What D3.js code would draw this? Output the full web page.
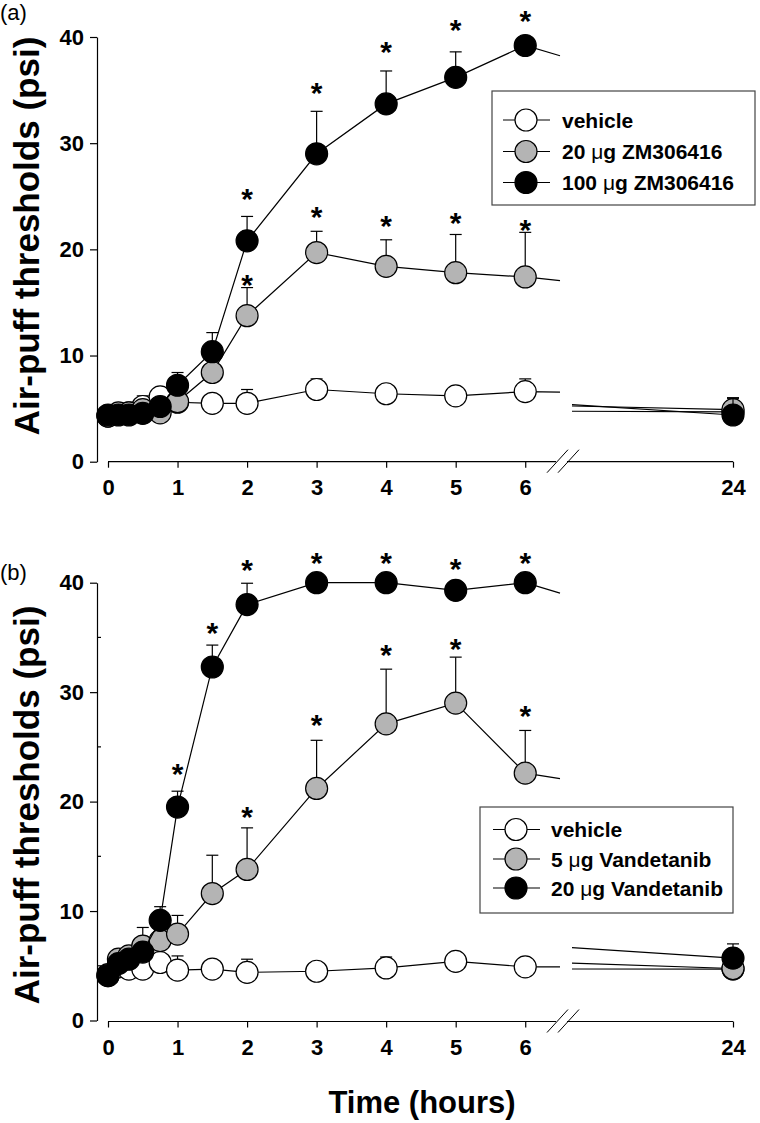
<!DOCTYPE html>
<html><head><meta charset="utf-8">
<script src="https://cdn.jsdelivr.net/npm/d3@7"></script>
<style>
html,body{margin:0;padding:0;background:#fff;}
svg{display:block;font-family:"Liberation Sans",Arial,Helvetica,sans-serif;}
</style></head>
<body>
<svg id="chart" width="760" height="1123"></svg>
<script>
// ---------- DATA ----------
const times = [0, 0.15, 0.3, 0.5, 0.75, 1, 1.5, 2, 3, 4, 5, 6, 24];
const xTicks = [0, 1, 2, 3, 4, 5, 6, 24];
const yTicks = [0, 10, 20, 30, 40];
const yMinorTicks = [5, 15, 25, 35];

// Panel (a) ZM306416
const namesA = ["vehicle", "20 \u03bcg ZM306416", "100 \u03bcg ZM306416"];
const vehicleA    = [4.3, 4.5, 4.6, 5.2, 6.1, 5.6, 5.5, 5.5, 6.8, 6.4, 6.2, 6.6, 4.7];
const vehicleAErr = [0.3, 0.3, 0.4, 1.0, 0.4, 0.5, 0.4, 1.3, 1.0, 0.5, 0.4, 1.2, 1.3];
const zm20A       = [4.3, 4.6, 4.6, 4.9, 4.6, 5.65, 8.4, 13.75, 19.7, 18.4, 17.8, 17.4, 4.9];
const zm20AErr    = [0.3, 0.4, 0.4, 0.6, 0.5, 0.8, 1.2, 2.65, 2.0, 2.5, 3.6, 4.2, 1.1];
const zm100A      = [4.4, 4.4, 4.4, 4.55, 5.2, 7.2, 10.36, 20.8, 29.0, 33.7, 36.2, 39.2, 4.4];
const zm100AErr   = [0.3, 0.3, 0.3, 0.4, 0.6, 1.2, 1.8, 2.3, 4.0, 3.1, 2.4, 0.5, 1.6];
const starTimesA20  = [2, 3, 4, 5, 6];
const starLevelsA20 = [17.3, 23.7, 22.9, 23.1, 22.5];
const starTimesA100  = [2, 3, 4, 5, 6];
const starLevelsA100 = [25.4, 35.4, 39.2, 41.3, 42.2];

// Panel (b) Vandetanib
const namesB = ["vehicle", "5 \u03bcg Vandetanib", "20 \u03bcg Vandetanib"];
const vehicleB    = [4.1, 4.9, 4.7, 4.7, 5.3, 4.6, 4.7, 4.4, 4.5, 4.8, 5.4, 4.9, 4.7];
const vehicleBErr = [0.3, 0.4, 0.4, 0.5, 0.6, 1.3, 0.6, 1.2, 0.4, 1.0, 0.5, 0.5, 0.8];
const van5B       = [4.2, 5.6, 5.9, 6.8, 7.3, 7.9, 11.6, 13.8, 21.2, 27.1, 29.0, 22.6, 4.75];
const van5BErr    = [0.3, 0.6, 0.8, 1.7, 1.5, 1.7, 3.5, 3.8, 4.4, 5.0, 4.2, 3.9, 1.0];
const van20B      = [4.1, 5.2, 5.6, 6.25, 9.15, 19.5, 32.3, 38.0, 40.0, 40.0, 39.3, 40.0, 5.7];
const van20BErr   = [0.3, 0.4, 0.5, 0.6, 1.25, 1.45, 2.0, 1.95, 0.3, 0.3, 0.3, 0.3, 1.3];
const starTimesB5  = [2, 3, 4, 5, 6];
const starLevelsB5 = [19.2, 27.6, 34.0, 34.6, 28.5];
const starTimesB20  = [1, 1.5, 2, 3, 4, 5, 6];
const starLevelsB20 = [23.2, 36.0, 41.8, 42.4, 42.4, 41.9, 42.4];

// ---------- DRAW ----------
const svg = d3.select("#chart");
const FONT = '"Liberation Sans",Arial,Helvetica,sans-serif';
const fills = ["#ffffff", "#b4b4b4", "#000000"];
const R = 11;
const breakStart = 6.5, breakEnd = 23.5;

const x = d3.scaleLinear().domain([0, breakStart, breakEnd, 24]).range([108, 560, 572, 733]);

function interp(t, v, tt) {
  for (let i = 0; i < t.length - 1; i++) {
    if (tt >= t[i] && tt <= t[i + 1]) {
      return v[i] + (v[i + 1] - v[i]) * (tt - t[i]) / (t[i + 1] - t[i]);
    }
  }
  return null;
}

function drawPanel(cfg) {
  const y = d3.scaleLinear().domain([0, 40]).range([cfg.y0, cfg.y40]);
  const g = svg.append("g");
  const axisY = cfg.y0 + cfg.xAxisShift;

  // panel label
  g.append("text").attr("x", 0).attr("y", cfg.labelY).attr("font-size", 22)
    .attr("font-family", FONT).text(cfg.label);

  // y axis
  const ya = g.append("g").attr("transform", "translate(97,0)")
    .call(d3.axisLeft(y).tickValues(yTicks).tickSize(7).tickSizeOuter(0).tickPadding(6));
  ya.selectAll("path,line").attr("stroke", "#000").attr("stroke-width", 1.2);
  ya.selectAll("text").attr("font-size", 22).attr("font-weight", "bold").attr("font-family", FONT).attr("fill", "#000");
  if (cfg.minor) {
    g.selectAll(".minor").data(yMinorTicks).join("line")
      .attr("x1", 97).attr("x2", 101).attr("y1", d => y(d)).attr("y2", d => y(d))
      .attr("stroke", "#000").attr("stroke-width", 1.2);
  }

  // x axis
  const xa = g.append("g").attr("transform", `translate(0,${axisY})`)
    .call(d3.axisBottom(x).tickValues(xTicks).tickSize(6).tickSizeOuter(0).tickPadding(12));
  xa.select(".domain").remove();
  xa.selectAll("line").attr("stroke", "#000").attr("stroke-width", 1.2);
  xa.selectAll("text").attr("font-size", 22).attr("font-weight", "bold").attr("font-family", FONT).attr("fill", "#000");
  g.append("line").attr("x1", x(0)).attr("x2", 556).attr("y1", axisY).attr("y2", axisY).attr("stroke", "#000").attr("stroke-width", 1.2);
  g.append("line").attr("x1", 567).attr("x2", x(24)).attr("y1", axisY).attr("y2", axisY).attr("stroke", "#000").attr("stroke-width", 1.2);
  [556, 567].forEach(cx => {
    g.append("line").attr("x1", cx - 9).attr("y1", axisY + 11).attr("x2", cx + 12).attr("y2", axisY - 12)
      .attr("stroke", "#000").attr("stroke-width", 1);
  });

  // y title
  g.append("text").attr("transform", `translate(${cfg.titleX},${cfg.titleY}) rotate(-90)`)
    .attr("text-anchor", "middle").attr("font-size", cfg.titleSize).attr("font-weight", "bold")
    .attr("font-family", FONT).text("Air-puff thresholds (psi)");

  // series
  const line = d3.line().defined(d => d !== null).x(d => x(d[0])).y(d => y(d[1]));
  cfg.series.forEach((s, si) => {
    const pts = times.map((t, i) => [t, s.v[i], s.e[i]]);
    const early = pts.filter(p => p[0] <= 6);
    const lineData = early.map(p => [p[0], p[1]])
      .concat([[breakStart, interp(times, s.v, breakStart)], null,
               [breakEnd, interp(times, s.v, breakEnd)], [24, s.v[s.v.length - 1]]]);
    const sg = g.append("g");
    sg.append("path").datum(lineData).attr("d", line).attr("fill", "none")
      .attr("stroke", "#000").attr("stroke-width", 1.2);
    // error bars (upper)
    sg.selectAll(".eb").data(pts).join("line")
      .attr("x1", d => x(d[0])).attr("x2", d => x(d[0]))
      .attr("y1", d => y(d[1])).attr("y2", d => y(d[1] + d[2]))
      .attr("stroke", "#000").attr("stroke-width", 1.2);
    sg.selectAll(".cap").data(pts).join("line")
      .attr("x1", d => x(d[0]) - 6).attr("x2", d => x(d[0]) + 6)
      .attr("y1", d => y(d[1] + d[2])).attr("y2", d => y(d[1] + d[2]))
      .attr("stroke", "#000").attr("stroke-width", 1.2);
    sg.selectAll("circle").data(pts).join("circle")
      .attr("cx", d => x(d[0])).attr("cy", d => y(d[1])).attr("r", R)
      .attr("fill", fills[si]).attr("stroke", "#000").attr("stroke-width", 1.2);
  });

  // stars
  cfg.stars.forEach(st => {
    g.selectAll(null).data(st.t.map((t, i) => [t, st.v[i]])).join("text")
      .attr("x", d => x(d[0])).attr("y", d => y(d[1]) + 17)
      .attr("text-anchor", "middle").attr("font-size", 30).attr("font-weight", "bold")
      .attr("font-family", FONT).text("*");
  });

  // legend
  const L = cfg.legend;
  g.append("rect").attr("x", L.x).attr("y", L.y).attr("width", L.w).attr("height", L.h)
    .attr("fill", "#fff").attr("stroke", "#444").attr("stroke-width", 1.2);
  cfg.names.forEach((n, i) => {
    const ry = L.rows[i];
    g.append("line").attr("x1", L.mx - 23).attr("x2", L.mx + 24).attr("y1", ry).attr("y2", ry)
      .attr("stroke", "#000").attr("stroke-width", 1.2);
    g.append("circle").attr("cx", L.mx).attr("cy", ry).attr("r", R)
      .attr("fill", fills[i]).attr("stroke", "#000").attr("stroke-width", 1.2);
    const parts = n.split("\u03bc");
    const tx = g.append("text").attr("x", L.tx).attr("y", ry + 7.5).attr("font-size", 21)
      .attr("font-weight", "bold").attr("font-family", FONT);
    tx.append("tspan").text(parts[0]);
    if (parts.length > 1) {
      tx.append("tspan").attr("font-weight", "normal").text("\u03bc");
      tx.append("tspan").text(parts[1]);
    }
  });
}

drawPanel({
  label: "(a)", labelY: 20, y0: 461.7, y40: 37, xAxisShift: 0, minor: false,
  titleX: 39, titleY: 236, titleSize: 35,
  names: namesA,
  series: [{v: vehicleA, e: vehicleAErr}, {v: zm20A, e: zm20AErr}, {v: zm100A, e: zm100AErr}],
  stars: [{t: starTimesA20, v: starLevelsA20}, {t: starTimesA100, v: starLevelsA100}],
  legend: {x: 492, y: 91, w: 263, h: 114, rows: [120, 151.5, 182.5], mx: 526, tx: 562}
});
drawPanel({
  label: "(b)", labelY: 580, y0: 1020.5, y40: 582.7, xAxisShift: 1, minor: true,
  titleX: 39, titleY: 805, titleSize: 35,
  names: namesB,
  series: [{v: vehicleB, e: vehicleBErr}, {v: van5B, e: van5BErr}, {v: van20B, e: van20BErr}],
  stars: [{t: starTimesB5, v: starLevelsB5}, {t: starTimesB20, v: starLevelsB20}],
  legend: {x: 480, y: 807, w: 253, h: 106, rows: [829.5, 859, 888], mx: 516, tx: 551}
});

svg.append("text").attr("x", 422).attr("y", 1113).attr("text-anchor", "middle")
  .attr("font-size", 31).attr("font-weight", "bold").attr("font-family", FONT).text("Time (hours)");
</script>
</body></html>
